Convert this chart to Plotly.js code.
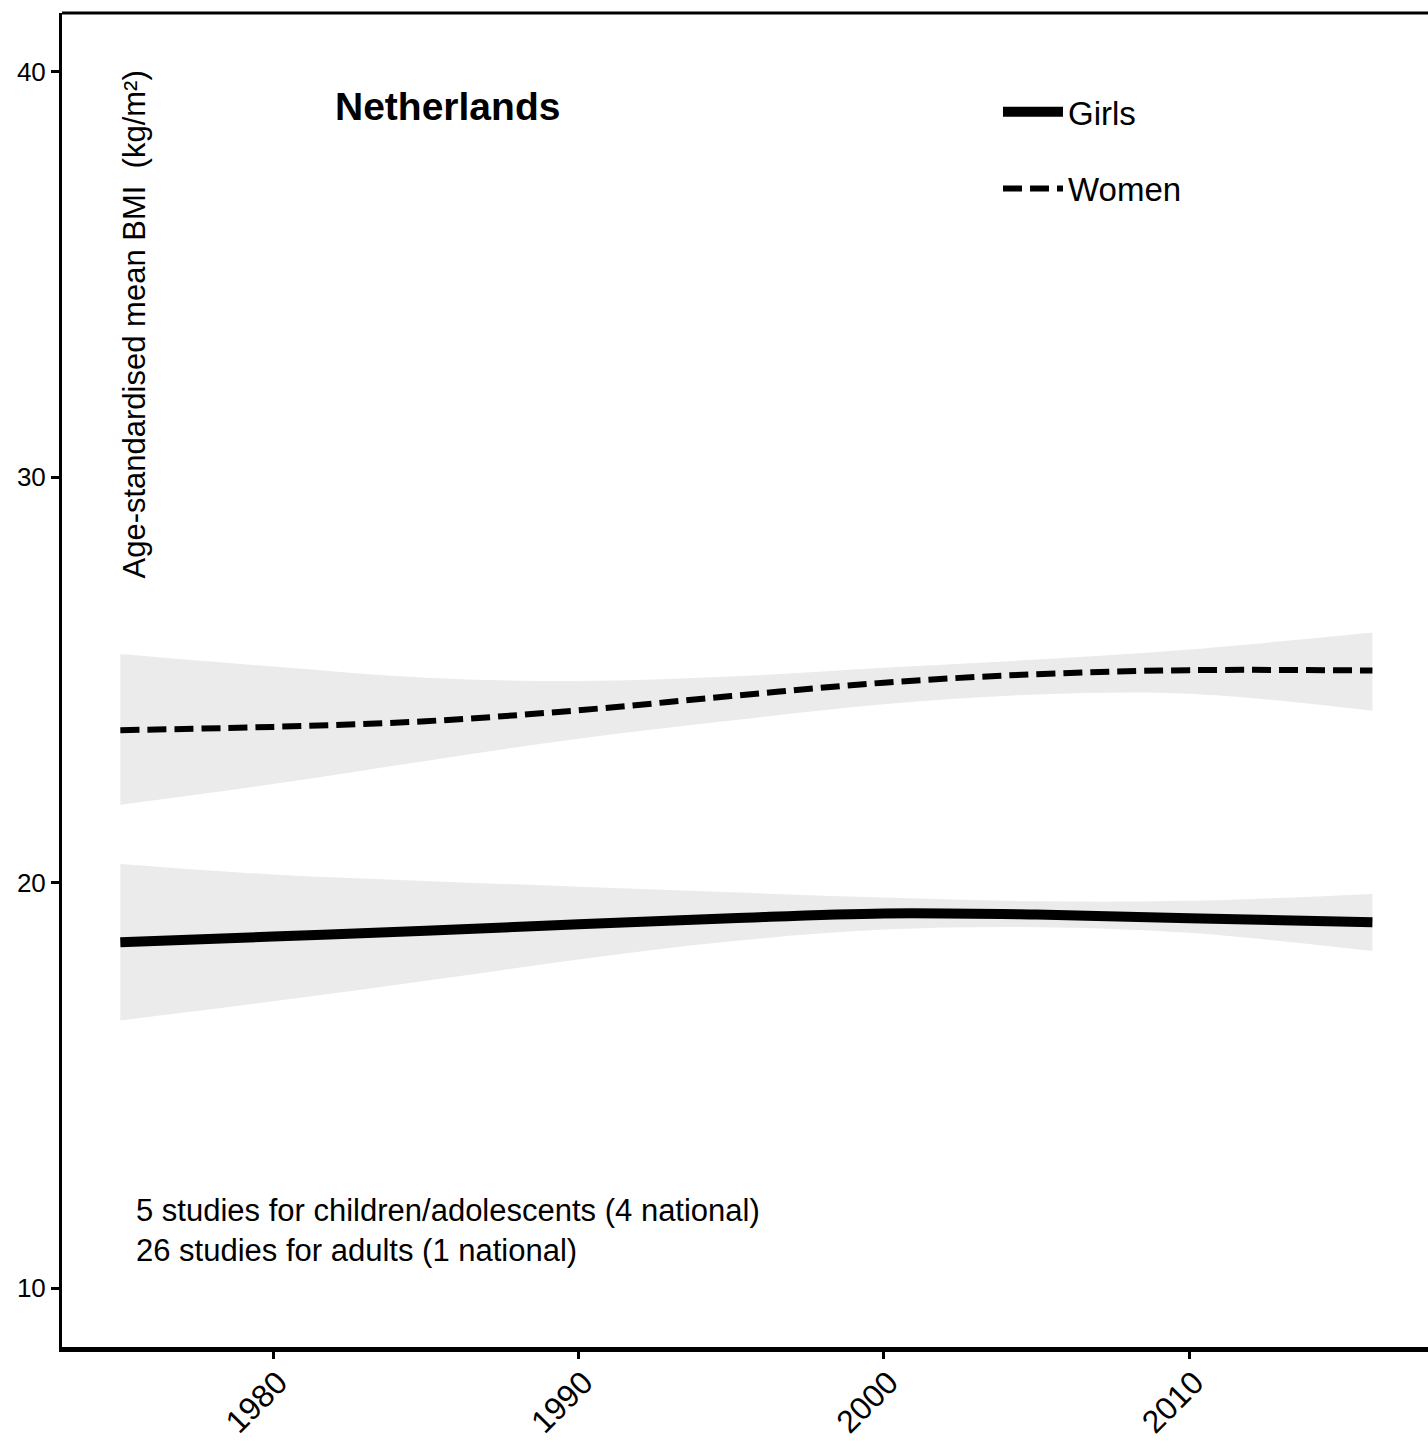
<!DOCTYPE html>
<html>
<head>
<meta charset="utf-8">
<script src="https://cdn.plot.ly/plotly-3.0.1.min.js"></script>
<style>html,body{margin:0;padding:0;background:#fff;}#chart{width:1428px;height:1453px;}</style>
</head>
<body>
<div id="chart"></div>
<script>
// Data
const years = [1975, 1980, 1985, 1990, 1995, 2000, 2005, 2010, 2016];
const girlsMean  = [18.53, 18.67, 18.81, 18.97, 19.12, 19.24, 19.21, 19.12, 19.02];
const girlsUpper = [20.46, 20.20, 20.04, 19.90, 19.76, 19.63, 19.54, 19.55, 19.72];
const girlsLower = [16.60, 17.07, 17.58, 18.10, 18.55, 18.84, 18.90, 18.76, 18.31];
const womenMean  = [23.76, 23.84, 23.98, 24.25, 24.60, 24.93, 25.14, 25.24, 25.23];
const womenUpper = [25.64, 25.33, 25.05, 24.97, 25.08, 25.30, 25.50, 25.75, 26.17];
const womenLower = [21.92, 22.43, 23.00, 23.55, 24.00, 24.40, 24.64, 24.66, 24.24];
const xTicks = [1980, 1990, 2000, 2010];
const xTickLabels = ["1980", "1990", "2000", "2010"];
const yTicks = [10, 20, 30, 40];
const yTickLabels = ["10", "20", "30", "40"];
const seriesNames = ["Girls", "Women"];
const countryName = "Netherlands";
const yAxisLabel = "Age-standardised mean BMI  (kg/m²)";
const noteLines = ["5 studies for children/adolescents (4 national)", "26 studies for adults (1 national)"];

const FONT = "Liberation Sans, Arial, Helvetica, sans-serif";
const BAND = "#EBEBEB";

function band(lower, upper) {
  return [
    {x: years, y: lower, type: "scatter", mode: "lines", line: {width: 0, shape: "spline", color: BAND},
     showlegend: false, hoverinfo: "skip"},
    {x: years, y: upper, type: "scatter", mode: "lines", line: {width: 0, shape: "spline", color: BAND},
     fill: "tonexty", fillcolor: BAND, showlegend: false, hoverinfo: "skip"}
  ];
}

const traces = [
  ...band(girlsLower, girlsUpper),
  ...band(womenLower, womenUpper),
  {x: years, y: girlsMean, type: "scatter", mode: "lines", name: seriesNames[0], legendgroup: "g",
   line: {color: "#000", width: 10, shape: "spline"}},
  {x: years, y: womenMean, type: "scatter", mode: "lines", name: seriesNames[1], legendgroup: "w",
   line: {color: "#000", width: 6, shape: "spline", dash: "19px,8px"}}
];

const layout = {
  width: 1428, height: 1453,
  margin: {l: 62, r: 0, t: 13, b: 106, pad: 0},
  paper_bgcolor: "#fff", plot_bgcolor: "#fff",
  font: {family: FONT, color: "#000"},
  xaxis: {
    range: [1973.09, 2017.82], tickmode: "array", tickvals: xTicks, ticktext: xTickLabels,
    tickangle: -45, tickfont: {size: 32, family: FONT, color: "#000"},
    ticklabelshift: 5, ticklabelstandoff: -8,
    ticks: "outside", ticklen: 7, tickwidth: 3, tickcolor: "#000",
    showline: true, linecolor: "#000", linewidth: 5, showgrid: false, zeroline: false, fixedrange: true
  },
  yaxis: {
    range: [8.545, 41.448], tickmode: "array", tickvals: yTicks, ticktext: yTickLabels,
    tickfont: {size: 26, family: FONT, color: "#000"},
    ticks: "outside", ticklen: 8, tickwidth: 3, tickcolor: "#000",
    showline: true, linecolor: "#000", linewidth: 3, showgrid: false, zeroline: false, fixedrange: true
  },
  showlegend: true,
  legend: {
    x: 0.6852, xanchor: "left", y: 0.947, yanchor: "top",
    font: {size: 33, family: FONT, color: "#000"},
    bgcolor: "rgba(0,0,0,0)", borderwidth: 0, itemwidth: 60,
    traceorder: "grouped", tracegroupgap: 31
  },
  shapes: [
    {type: "line", xref: "paper", yref: "paper", x0: 0, x1: 1, y0: 1, y1: 1, line: {color: "#000", width: 3}}
  ],
  annotations: [
    {text: "<b>" + countryName + "</b>", x: 1981.95, y: 39.15, xref: "x", yref: "y",
     xanchor: "left", yanchor: "middle", showarrow: false, font: {size: 39, family: FONT, color: "#000"}},
    {text: yAxisLabel, x: 1975.45, y: 40.08, xref: "x", yref: "y", textangle: -90,
     xanchor: "center", yanchor: "top", showarrow: false, font: {size: 31, family: FONT, color: "#000"}},
    {text: noteLines.join("<br>"), x: 1975.45, y: 11.43, xref: "x", yref: "y", align: "left",
     xanchor: "left", yanchor: "middle", showarrow: false, font: {size: 31, family: FONT, color: "#000"}}
  ]
};

Plotly.newPlot("chart", traces, layout, {staticPlot: true, displayModeBar: false});
</script>
</body>
</html>
